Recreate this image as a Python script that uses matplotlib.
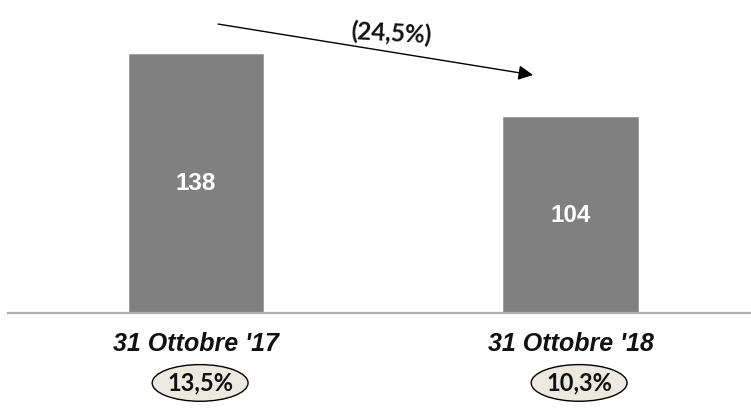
import matplotlib.pyplot as plt
from matplotlib.patches import Ellipse

# --- Data ------------------------------------------------------------------

categories = ["31 Ottobre '17", "31 Ottobre '18"]
values = [138, 104]
ratio_labels = ["13,5%", "10,3%"]
change_label = "(24,5%)"

BAR_COLOR = "#808080"
PILL_COLOR = "#ECEAE0"

# --- Plot ------------------------------------------------------------------

fig = plt.figure(figsize=(7.51, 4.08), dpi=100)
ax = fig.add_axes([8 / 751, 95 / 408, 743 / 751, 313 / 408])

x = list(range(len(categories)))
bars = ax.bar(x, values, width=0.36, color=BAR_COLOR, edgecolor="#9a9a9a", linewidth=0.6)

ax.set_xlim(-0.502, 1.482)
ax.set_ylim(0, 166.5)

for s in ["top", "right", "left"]:
    ax.spines[s].set_visible(False)
ax.spines["bottom"].set_color("#b0b0b0")
ax.spines["bottom"].set_linewidth(1.6)
ax.set_xticks([])
ax.set_yticks([])

# values inside the bars
for xi, v in zip(x, values):
    ax.text(xi, v / 2, f"{v}", ha="center", va="center", color="white",
            fontsize=17.5, fontweight="bold", family="Liberation Sans")

# category labels under the baseline
for xi, cat in zip(x, categories):
    ax.text(xi, -0.099, cat, transform=ax.get_xaxis_transform(),
            ha="center", va="center", fontsize=18, fontweight="bold",
            fontstyle="italic", family="Liberation Sans", color="#111111")

# ratio pills
pill_dx = [0.011, 0.023]
for xi, dx, lab in zip(x, pill_dx, ratio_labels):
    e = Ellipse((xi + dx, -37.2), width=0.256, height=19.5,
                facecolor=PILL_COLOR, edgecolor="black", linewidth=1.0,
                clip_on=False)
    ax.add_patch(e)
    ax.text(xi + dx, -37.0, lab, ha="center", va="center", fontsize=17,
            fontweight="bold", family="Lato", color="#111111")

# change arrow between the two bars
ax.annotate("", xy=(0.90, 126.6), xytext=(0.059, 153.7),
            arrowprops=dict(arrowstyle="-|>", color="black", lw=1.0,
                            mutation_scale=22, shrinkA=0, shrinkB=0),
            annotation_clip=False)
ax.text(0.52, 148.5, change_label, ha="center", va="center", fontsize=17.5,
        fontweight="bold", family="Lato", rotation=-3, color="#111111")

fig.savefig("out.png", dpi=100)
